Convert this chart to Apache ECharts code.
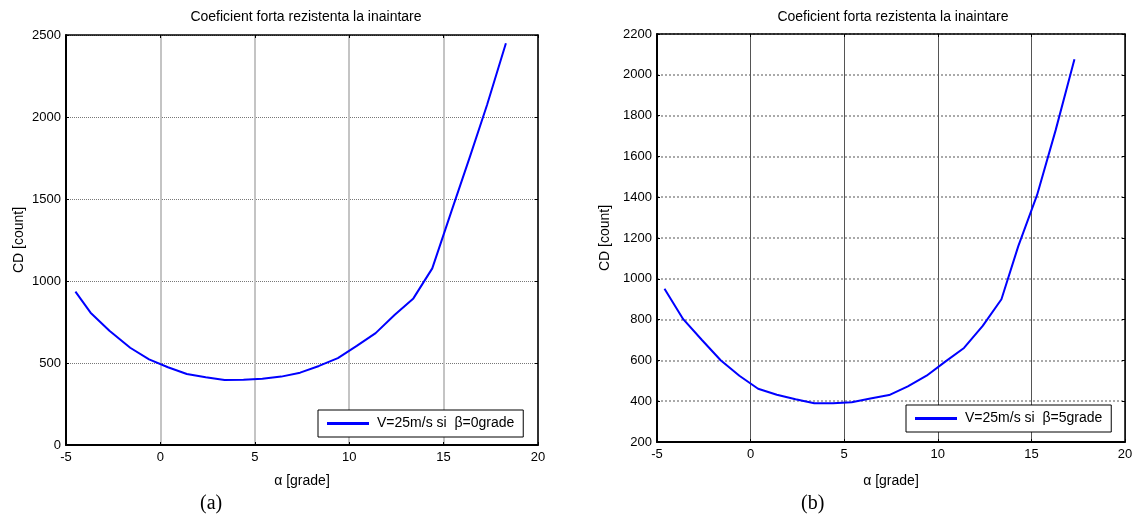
<!DOCTYPE html>
<html>
<head>
<meta charset="utf-8">
<script src="https://cdn.jsdelivr.net/npm/echarts@6/dist/echarts.min.js"></script>
<style>
  html, body { margin: 0; padding: 0; background: #fff; }
  #chart { width: 1138px; height: 523px; }
</style>
</head>
<body>
<div id="chart"></div>
<script>
// (a) beta = 0 grade
var alphaA = [-4.5, -3.7, -2.7, -1.6, -0.6, 0.4, 1.4, 2.4, 3.4, 4.4, 5.4, 6.4, 7.4, 8.4, 9.4, 10.4, 11.4, 12.4, 13.4, 14.4, 15.4, 16.4, 17.3, 18.3];
var cdA = [935, 807, 697, 593, 522, 474, 433, 413, 396, 398, 404, 417, 441, 482, 530, 604, 682, 793, 894, 1077, 1420, 1760, 2073, 2450];

// (b) beta = 5 grade
var alphaB = [-4.6, -3.6, -2.6, -1.6, -0.6, 0.4, 1.4, 2.4, 3.4, 4.4, 5.4, 6.4, 7.4, 8.4, 9.4, 10.4, 11.4, 12.4, 13.4, 14.3, 15.3, 16.3, 17.3];
var cdB = [951, 802, 700, 601, 525, 461, 432, 410, 390, 390, 395, 413, 430, 473, 525, 594, 661, 769, 900, 1160, 1410, 1730, 2076];

var titleText = 'Coeficient forta rezistenta la inaintare';
var nameA = 'V=25m/s si  \u03b2=0grade';
var nameB = 'V=25m/s si  \u03b2=5grade';

var font = "'Liberation Sans', Arial, sans-serif";

function plain(v) { return String(v); }

function mainX(grid, gap) {
  return {
    type: 'value', gridIndex: grid, min: -5, max: 20, interval: 5,
    name: '\u03b1 [grade]', nameLocation: 'middle', nameGap: gap,
    nameTextStyle: { color: '#000', fontSize: 14, fontFamily: font },
    axisLine: { onZero: false, lineStyle: { color: '#000', width: 2 } },
    axisTick: { inside: true, length: 3, lineStyle: { color: '#000' } },
    axisLabel: { color: '#000', fontSize: 13, fontFamily: font, margin: 6, formatter: plain },
    splitLine: { show: true, lineStyle: grid === 0 ? { color: '#c4c4c4', width: 2 } : { color: '#555', width: 1 } }
  };
}
function mainY(grid, min, max, step, gap) {
  return {
    type: 'value', gridIndex: grid, min: min, max: max, interval: step,
    name: 'CD [count]', nameLocation: 'middle', nameGap: gap,
    nameTextStyle: { color: '#000', fontSize: 14, fontFamily: font },
    axisLine: { onZero: false, lineStyle: { color: '#000', width: 2 } },
    axisTick: { inside: true, length: 3, lineStyle: { color: '#000' } },
    axisLabel: { color: '#000', fontSize: 13, fontFamily: font, margin: 5, formatter: plain },
    splitLine: { show: true, lineStyle: grid === 0 ? { color: '#777', width: 1, type: 'dotted' } : { color: '#aaa', width: 2, type: 'dotted' } }
  };
}
function boxX(grid) {
  return {
    type: 'value', gridIndex: grid, position: 'top', min: -5, max: 20, interval: 5,
    axisLine: { onZero: false, lineStyle: { color: '#000', width: 1.5 } },
    axisTick: { inside: true, length: 3, lineStyle: { color: '#000' } },
    axisLabel: { show: false }, splitLine: { show: false }
  };
}
function boxY(grid, min, max, step) {
  return {
    type: 'value', gridIndex: grid, position: 'right', min: min, max: max, interval: step,
    axisLine: { onZero: false, lineStyle: { color: '#000', width: 1.5 } },
    axisTick: { inside: true, length: 3, lineStyle: { color: '#000' } },
    axisLabel: { show: false }, splitLine: { show: false }
  };
}
function legendFor(name, left, top) {
  return {
    data: [name], left: left, top: top, orient: 'horizontal',
    icon: 'rect', itemWidth: 42, itemHeight: 3,
    padding: [5, 9, 5, 9],
    borderColor: '#000', borderWidth: 1, backgroundColor: '#fff',
    textStyle: { fontSize: 14, color: '#000', fontFamily: font, lineHeight: 17, padding: [0, 0, 0, 3] }
  };
}

var chart = echarts.init(document.getElementById('chart'), null, { renderer: 'canvas' });
chart.setOption({
  backgroundColor: '#fff',
  animation: false,
  textStyle: { fontFamily: font },
  title: [
    { text: titleText, left: 301, top: 5, textAlign: 'center', textStyle: { fontSize: 14, fontWeight: 'normal', color: '#000', fontFamily: font } },
    { text: titleText, left: 888, top: 5, textAlign: 'center', textStyle: { fontSize: 14, fontWeight: 'normal', color: '#000', fontFamily: font } }
  ],
  grid: [
    { left: 66, top: 35, width: 472, height: 410 },
    { left: 657, top: 34, width: 468, height: 408 }
  ],
  legend: [legendFor(nameA, 318, 410), legendFor(nameB, 906, 405)],
  xAxis: [mainX(0, 29), mainX(1, 32), boxX(0), boxX(1)],
  yAxis: [mainY(0, 0, 2500, 500, 40), mainY(1, 200, 2200, 200, 45), boxY(0, 0, 2500, 500), boxY(1, 200, 2200, 200)],
  series: [
    {
      name: nameA, type: 'line', xAxisIndex: 0, yAxisIndex: 0, symbol: 'none',
      lineStyle: { color: '#0000ff', width: 2 }, itemStyle: { color: '#0000ff' },
      data: alphaA.map(function (a, i) { return [a, cdA[i]]; })
    },
    {
      name: nameB, type: 'line', xAxisIndex: 1, yAxisIndex: 1, symbol: 'none',
      lineStyle: { color: '#0000ff', width: 2 }, itemStyle: { color: '#0000ff' },
      data: alphaB.map(function (a, i) { return [a, cdB[i]]; })
    }
  ],
  graphic: [
    { type: 'text', left: 200, top: 494, style: { text: '(a)', font: "20px 'Liberation Serif', 'Times New Roman', serif", fill: '#000' } },
    { type: 'text', left: 801, top: 494, style: { text: '(b)', font: "20px 'Liberation Serif', 'Times New Roman', serif", fill: '#000' } }
  ]
});
</script>
</body>
</html>
